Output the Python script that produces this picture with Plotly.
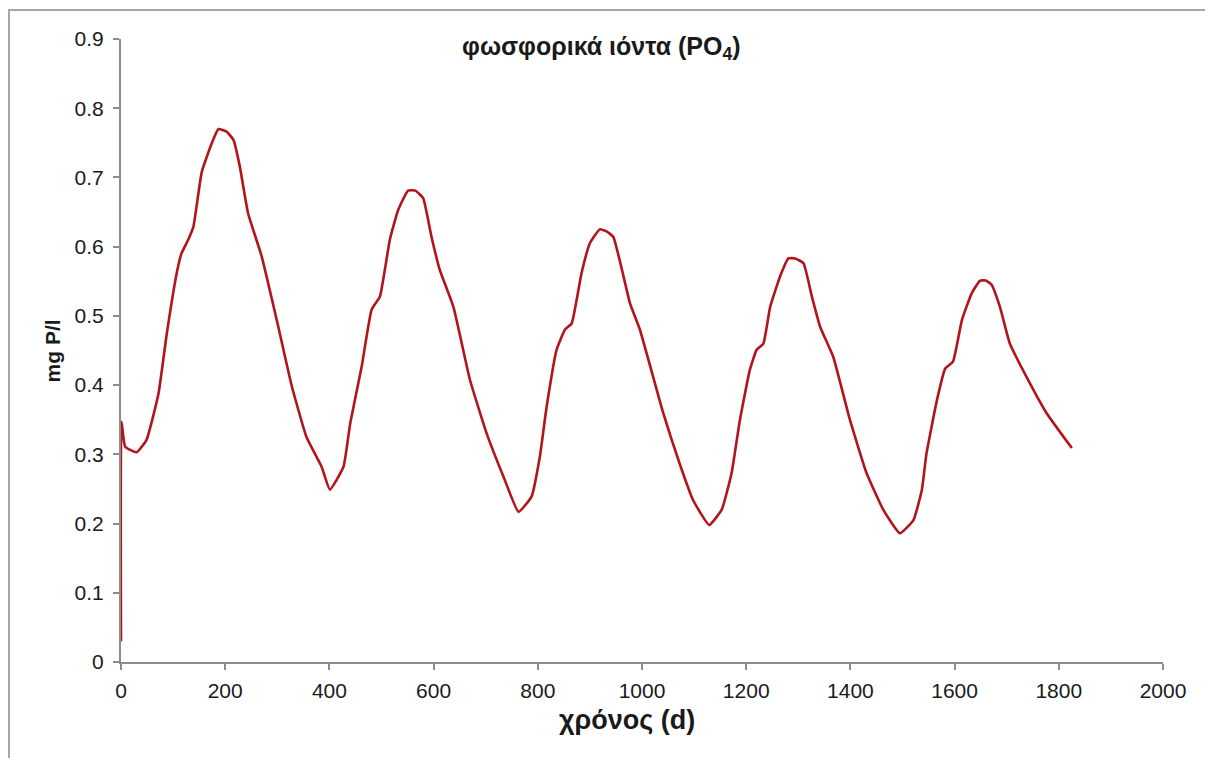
import plotly.graph_objects as go

# time (days) and phosphate concentration (mg P/l)
days = [0, 1, 8, 30, 49, 72, 88, 107, 116, 129, 139, 155, 174, 187, 203, 216, 228, 244,
        270, 302, 328, 356, 385, 401, 427, 440, 462, 481, 497, 516, 532, 551, 565, 580,
        596, 612, 638, 670, 702, 734, 763, 788, 804, 817, 836, 852, 865, 884, 900, 919,
        932, 945, 977, 996, 1041, 1073, 1098, 1129, 1153, 1172, 1188, 1207, 1220, 1233,
        1246, 1265, 1281, 1294, 1310, 1326, 1342, 1367, 1399, 1431, 1463, 1495, 1521,
        1537, 1546, 1566, 1582, 1597, 1614, 1633, 1649, 1660, 1671, 1687, 1706, 1738,
        1777, 1825]
po4 = [0.03, 0.347, 0.311, 0.303, 0.321, 0.388, 0.475, 0.562, 0.590, 0.610, 0.629, 0.708,
       0.749, 0.770, 0.766, 0.754, 0.716, 0.648, 0.586, 0.484, 0.398, 0.325, 0.282, 0.249,
       0.282, 0.345, 0.427, 0.509, 0.528, 0.610, 0.653, 0.681, 0.681, 0.670, 0.614, 0.566,
       0.513, 0.407, 0.330, 0.268, 0.217, 0.239, 0.297, 0.369, 0.451, 0.480, 0.489, 0.562,
       0.605, 0.625, 0.622, 0.614, 0.518, 0.480, 0.359, 0.285, 0.234, 0.198, 0.220, 0.273,
       0.350, 0.422, 0.451, 0.460, 0.513, 0.557, 0.583, 0.583, 0.576, 0.528, 0.484, 0.441,
       0.350, 0.273, 0.220, 0.186, 0.205, 0.248, 0.301, 0.378, 0.424, 0.434, 0.494, 0.533,
       0.551, 0.551, 0.545, 0.513, 0.460, 0.412, 0.359, 0.309]

x_ticks = [0, 200, 400, 600, 800, 1000, 1200, 1400, 1600, 1800, 2000]
y_ticks = [0, 0.1, 0.2, 0.3, 0.4, 0.5, 0.6, 0.7, 0.8, 0.9]
y_tick_text = ['0', '0.1', '0.2', '0.3', '0.4', '0.5', '0.6', '0.7', '0.8', '0.9']

FONT = 'Liberation Sans, Arial, sans-serif'
TEXT = '#1a1a1a'
AXIS = '#8c8c8c'

fig = go.Figure()
fig.add_trace(go.Scatter(
    x=days,
    y=po4,
    mode='lines',
    line=dict(color='#b3141c', width=2.6, shape='spline', smoothing=0.4),
    showlegend=False,
))

# page body has an 8px margin, so the figure is shrunk by 8px to fit the window
fig.update_layout(
    width=1205,
    height=750,
    margin=dict(l=113, r=50, t=31, b=96),
    paper_bgcolor='white',
    plot_bgcolor='white',
    font=dict(family=FONT, color=TEXT, size=21),
    xaxis=dict(
        range=[0, 2000],
        tickvals=x_ticks,
        showgrid=False,
        zeroline=False,
        showline=True,
        linecolor=AXIS,
        linewidth=2,
        ticks='outside',
        ticklen=6,
        tickcolor=AXIS,
        tickwidth=1.5,
        ticklabelstandoff=3,
        tickfont=dict(size=21, family=FONT, color=TEXT),
    ),
    yaxis=dict(
        range=[0, 0.9],
        tickvals=y_ticks,
        ticktext=y_tick_text,
        showgrid=False,
        zeroline=False,
        showline=True,
        linecolor=AXIS,
        linewidth=2,
        ticks='outside',
        ticklen=6,
        tickcolor=AXIS,
        tickwidth=1.5,
        ticklabelstandoff=5,
        tickfont=dict(size=21, family=FONT, color=TEXT),
    ),
    annotations=[
        dict(text='<b>φωσφορικά ιόντα (PO<sub>4</sub>)</b>', xref='paper', yref='paper',
             x=0.4607, y=0.9855, xanchor='center', yanchor='middle', showarrow=False,
             font=dict(size=25, family=FONT, color=TEXT)),
        dict(text='<b>χρόνος (d)</b>', xref='paper', yref='paper',
             x=0.4856, y=-0.0931, xanchor='center', yanchor='middle', showarrow=False,
             font=dict(size=27, family=FONT, color=TEXT)),
        dict(text='<b>mg P/l</b>', xref='paper', yref='paper', textangle=-90,
             x=-0.0653, y=0.5, xanchor='center', yanchor='middle', showarrow=False,
             font=dict(size=21, family=FONT, color=TEXT)),
    ],
    shapes=[
        dict(type='rect', xref='paper', yref='paper',
             x0=-0.1075, x1=1.045, y0=-0.2, y1=1.0465,
             line=dict(color='#a6a6a6', width=2), fillcolor='rgba(0,0,0,0)', layer='below'),
    ],
)

fig.write_html("out.html")
